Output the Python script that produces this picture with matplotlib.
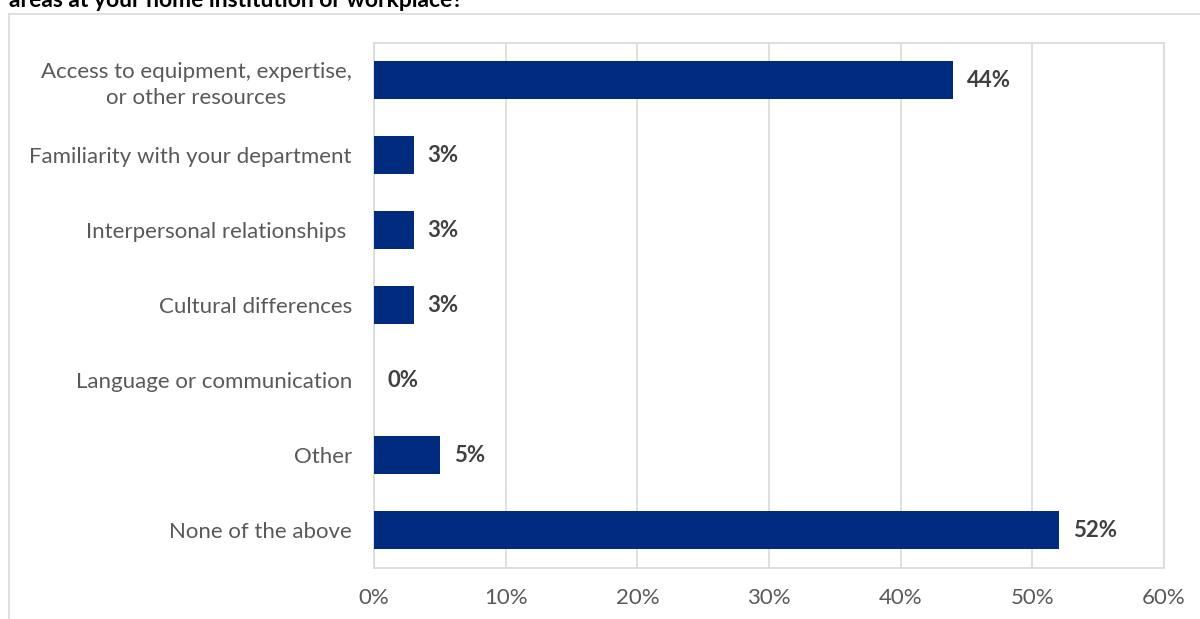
import matplotlib
matplotlib.use("Agg")
import matplotlib.pyplot as plt
from matplotlib.lines import Line2D

categories = [
    "Access to equipment, expertise,\nor other resources",
    "Familiarity with your department",
    "Interpersonal relationships ",
    "Cultural differences",
    "Language or communication",
    "Other",
    "None of the above",
]
values = [44, 3, 3, 3, 0, 5, 52]
value_labels = ["44%", "3%", "3%", "3%", "0%", "5%", "52%"]
x_ticks = [0, 10, 20, 30, 40, 50, 60]
x_tick_labels = ["0%", "10%", "20%", "30%", "40%", "50%", "60%"]
title = "areas at your home institution or workplace?"

W, H, DPI = 1200, 619, 100
plt.rcParams["font.family"] = ["Lato", "DejaVu Sans"]

fig = plt.figure(figsize=(W / DPI, H / DPI), dpi=DPI)
ax = fig.add_axes([374 / W, 1 - 567.5 / H, (1164 - 374) / W, (567.5 - 42.5) / H])

bar_color = "#002b7f"
grid_color = "#d9d9d9"
tick_color = "#595959"
fs = 16

ypos = list(range(len(categories)))
ax.barh(ypos, values, height=0.5, color=bar_color, zorder=3)
ax.set_ylim(len(categories) - 0.5, -0.5)
ax.set_xlim(0, 60)

ax.set_yticks(ypos)
ax.set_yticklabels(categories, fontsize=fs, color=tick_color, linespacing=1.35)
for lbl in ax.get_yticklabels():
    lbl.set_multialignment("center")
ax.set_xticks(x_ticks)
ax.set_xticklabels(x_tick_labels, fontsize=fs, color=tick_color)
ax.tick_params(axis="both", length=0)
ax.tick_params(axis="y", pad=16)
ax.tick_params(axis="x", pad=15)

ax.grid(axis="x", color=grid_color, linewidth=1.2, zorder=0)
for s in ax.spines.values():
    s.set_color(grid_color)
    s.set_linewidth(1.2)

for y, v, t in zip(ypos, values, value_labels):
    ax.annotate(t, xy=(v, y), xytext=(14, 0), textcoords="offset pixels",
                ha="left", va="center", fontsize=fs, fontweight="bold",
                color="#404040", zorder=4)

# outer chart frame (left and top edges)
fig.add_artist(Line2D([9 / W, 9 / W], [0, 1 - 14 / H], transform=fig.transFigure,
                      color=grid_color, linewidth=1.2))
fig.add_artist(Line2D([9 / W, 1], [1 - 14 / H, 1 - 14 / H], transform=fig.transFigure,
                      color=grid_color, linewidth=1.2))

# question text running off the top edge
fig.text(9 / W, 1 - 7 / H, title, ha="left", va="baseline", fontsize=16.5,
         fontweight="bold", color="black")

fig.savefig("out.png", dpi=DPI)
